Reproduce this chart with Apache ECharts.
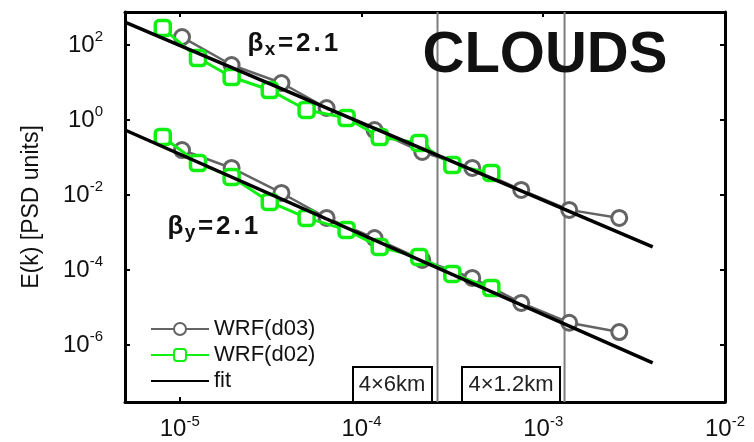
<!DOCTYPE html>
<html><head><meta charset="utf-8">
<script src="https://cdn.jsdelivr.net/npm/echarts@6/dist/echarts.min.js"></script>
<style>html,body{margin:0;padding:0;background:#fff}#c{width:754px;height:442px}</style>
</head><body><div id="c"></div>
<script>
// wavenumber k for each resolution run
const kD03 = [1.03e-5, 1.93e-5, 3.63e-5, 6.43e-5, 1.18e-4, 2.16e-4, 4.07e-4, 7.57e-4, 1.39e-3, 2.62e-3];
const kD02 = [8.07e-6, 1.26e-5, 1.93e-5, 3.13e-5, 4.99e-5, 8.28e-5, 1.26e-4, 2.08e-4, 3.16e-4, 5.18e-4];
// spectra in x (upper curves) and y (lower curves)
const eXD03 = [163, 29.3, 9.7, 2.09, 0.54, 0.14, 0.0525, 0.0136, 0.004, 0.00244];
const eYD03 = [0.158, 0.0525, 0.0113, 0.00244, 7.1e-4, 1.85e-4, 6.1e-5, 1.32e-5, 3.9e-6, 2.2e-6];
const eXD02 = [284, 45, 14, 6.3, 1.85, 1.13, 0.352, 0.244, 0.063, 0.0386];
const eYD02 = [0.352, 0.0713, 0.0302, 0.0065, 0.00244, 0.00117, 4.1e-4, 2.22e-4, 7.8e-5, 3.3e-5];
// fit line end points
const fitK = [5e-6, 4e-3];
const fitX = [410, 4.1e-4];
const fitY = [0.54, 3.3e-7];
// axis ranges
const xRange = [5e-6, 1e-2];
const yRange = [3e-8, 760];
// effective resolution markers
const scaleK = [2.62e-4, 1.31e-3];
const scaleLabels = ['4×6km', '4×1.2km'];
const seriesNames = ['WRF(d03)', 'WRF(d02)', 'fit'];
const betaLabels = ['2.1', '2.1'];
const titleText = 'CLOUDS';
const yName = 'E(k) [PSD units]';

const FF = '"Liberation Sans", Arial, sans-serif';
const GRAY = '#646464', GREEN = '#12ef12';

function pairs(xs, ys) { return xs.map((x, i) => [x, ys[i]]); }
function powLabel(v) {
  const e = Math.log10(v), r = Math.round(e);
  if (Math.abs(e - r) > 1e-6) return '';
  return '{b|10}{s|' + r + '}';
}
const labRich = {
  b: { fontSize: 24, fontFamily: FF, color: '#111' },
  s: { fontSize: 15, fontFamily: FF, color: '#111', padding: [0, 0, 16, 0] }
};
const axLine = { show: true, onZero: false, lineStyle: { color: '#000', width: 3 } };
const axTick = { show: true, inside: true, length: 5, lineStyle: { color: '#000', width: 2 } };

const grayStyle = {
  type: 'line', name: seriesNames[0], symbol: 'circle', symbolSize: 15, color: GRAY,
  lineStyle: { color: GRAY, width: 2.5 },
  itemStyle: { color: '#fff', borderColor: GRAY, borderWidth: 3 }, z: 2
};
const greenStyle = {
  type: 'line', name: seriesNames[1], symbol: 'roundRect', symbolSize: 15, color: GREEN,
  lineStyle: { color: GREEN, width: 3 },
  itemStyle: { color: '#fff', borderColor: GREEN, borderWidth: 3.5 }, z: 3
};
const fitStyle = {
  type: 'line', name: seriesNames[2], symbol: 'none', color: '#000',
  lineStyle: { color: '#000', width: 3.5 }, z: 4
};

const scaleSeries = scaleK.map(k => ({
  type: 'line', name: 'scale', symbol: 'none', silent: true, z: 1,
  lineStyle: { color: '#7d7d7d', width: 2 },
  data: [[k, yRange[0]], [k, yRange[1]]]
}));

function beta(sub, val) {
  return '{b|β}{sub|' + sub + '}' + ('=' + val).split('').map(c => '{b|' + c + '}').join('');
}
const betaRich = {
  b: { font: 'bold 26px ' + FF, fill: '#111', padding: [0, 1.5, 0, 1.5] },
  sub: { font: 'bold 19px ' + FF, fill: '#111', padding: [11, 1, 0, 0] }
};

const chart = echarts.init(document.getElementById('c'), null, { renderer: 'canvas' });
chart.setOption({
  animation: false,
  backgroundColor: '#fff',
  grid: { left: 125, right: 29, top: 12, bottom: 40, containLabel: false },
  xAxis: [
    { type: 'log', logBase: 10, min: xRange[0], max: xRange[1], position: 'bottom',
      axisLine: axLine, axisTick: axTick, splitLine: { show: false },
      axisLabel: { formatter: powLabel, rich: labRich, margin: 12, showMinLabel: true, showMaxLabel: true } },
    { type: 'log', logBase: 10, min: xRange[0], max: xRange[1], position: 'top',
      axisLine: axLine, axisTick: axTick, splitLine: { show: false }, axisLabel: { show: false } }
  ],
  yAxis: [
    { type: 'log', logBase: 100, min: yRange[0], max: yRange[1], position: 'left',
      axisLine: axLine, axisTick: axTick, splitLine: { show: false },
      name: yName, nameLocation: 'middle', nameGap: 82,
      nameTextStyle: { fontSize: 23, fontFamily: FF, color: '#111' },
      axisLabel: { formatter: powLabel, rich: labRich, margin: 22 } },
    { type: 'log', logBase: 100, min: yRange[0], max: yRange[1], position: 'right',
      axisLine: axLine, axisTick: axTick, splitLine: { show: false }, axisLabel: { show: false } }
  ],
  legend: {
    orient: 'vertical', left: 145, top: 313, itemWidth: 58, itemHeight: 15, itemGap: 4,
    data: [seriesNames[0], seriesNames[1], { name: seriesNames[2], itemStyle: { opacity: 0 } }],
    selectedMode: false,
    textStyle: { fontSize: 22, fontFamily: FF, color: '#111' }
  },
  series: scaleSeries.concat([
    Object.assign({}, grayStyle, { data: pairs(kD03, eXD03) }),
    Object.assign({}, grayStyle, { data: pairs(kD03, eYD03) }),
    Object.assign({}, greenStyle, { data: pairs(kD02, eXD02) }),
    Object.assign({}, greenStyle, { data: pairs(kD02, eYD02) }),
    Object.assign({}, fitStyle, { data: pairs(fitK, fitX) }),
    Object.assign({}, fitStyle, { data: pairs(fitK, fitY) })
  ]),
  graphic: [
    { type: 'text', x: 545, y: 56, z: 10, style: { text: titleText, font: 'bold 58px ' + FF, fill: '#111',
      align: 'center', verticalAlign: 'middle' } },
    { type: 'text', x: 246, y: 44, z: 10, style: { text: beta('x', betaLabels[0]),
      verticalAlign: 'middle', rich: betaRich } },
    { type: 'text', x: 166, y: 227, z: 10, style: { text: beta('y', betaLabels[1]),
      verticalAlign: 'middle', rich: betaRich } },
    { type: 'rect', z: 5, shape: { x: 353, y: 367, width: 79, height: 35 },
      style: { fill: '#fff', stroke: '#000', lineWidth: 2 } },
    { type: 'text', z: 6, x: 392, y: 385, style: { text: scaleLabels[0], font: '22px ' + FF, fill: '#222',
      align: 'center', verticalAlign: 'middle' } },
    { type: 'rect', z: 5, shape: { x: 462, y: 367, width: 98, height: 35 },
      style: { fill: '#fff', stroke: '#000', lineWidth: 2 } },
    { type: 'text', z: 6, x: 511, y: 385, style: { text: scaleLabels[1], font: '22px ' + FF, fill: '#222',
      align: 'center', verticalAlign: 'middle' } }
  ]
});
</script></body></html>
